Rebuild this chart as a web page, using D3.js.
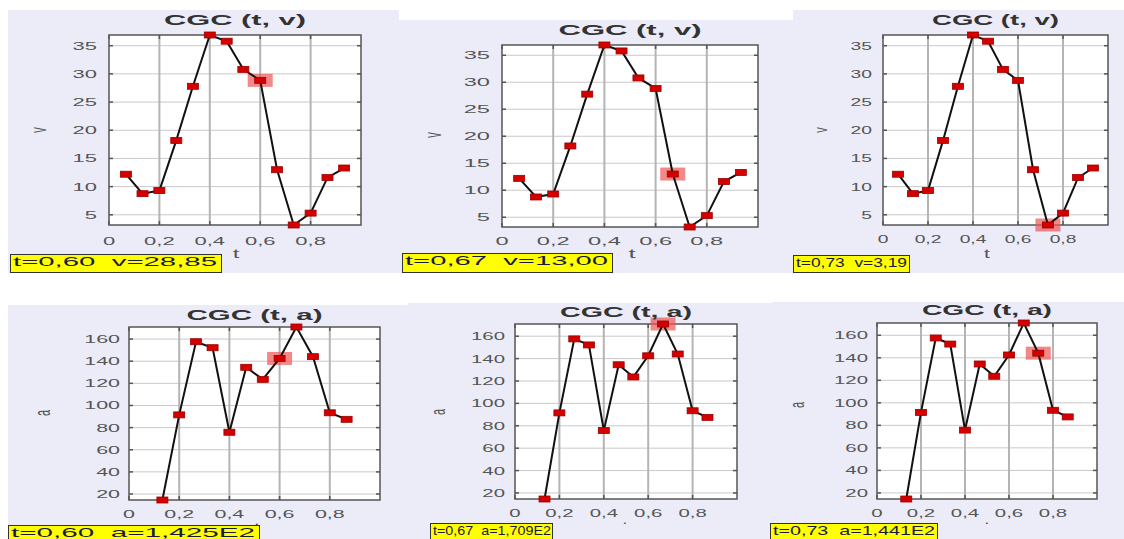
<!DOCTYPE html>
<html>
<head>
<meta charset="utf-8">
<script src="https://d3js.org/d3.v7.min.js"></script>
<style>
  html, body { margin: 0; padding: 0; background: #fff; }
  svg { display: block; }
</style>
</head>
<body>
<svg id="chart" width="1124" height="539"></svg>
<script>
// t values of the samples (v series and a series)
const tV = [0.067, 0.133, 0.2, 0.267, 0.333, 0.4, 0.467, 0.533, 0.6, 0.667, 0.733, 0.8, 0.867, 0.933];
const vValues = [12.2, 8.75, 9.3, 18.2, 27.8, 36.9, 35.8, 30.8, 28.85, 13.0, 3.19, 5.3, 11.6, 13.3];

const tA = [0.133, 0.2, 0.267, 0.333, 0.4, 0.467, 0.533, 0.6, 0.667, 0.733, 0.8, 0.867];
const aValues = [14.6, 91.5, 157.6, 152.2, 75.8, 134.5, 123.6, 142.5, 170.9, 144.1, 93.4, 87.5];

const xTicks = [0, 0.2, 0.4, 0.6, 0.8];
const xTickLabels = ["0", "0,2", "0,4", "0,6", "0,8"];
const vTicks = [5, 10, 15, 20, 25, 30, 35];
const aTicks = [20, 40, 60, 80, 100, 120, 140, 160];

const vReadouts = ["t=0,60  v=28,85", "t=0,67  v=13,00", "t=0,73  v=3,19"];
const aReadouts = ["t=0,60  a=1,425E2", "t=0,67  a=1,709E2", "t=0,73  a=1,441E2"];
const vHighlight = [8, 9, 10];
const aHighlight = [7, 8, 9];

// layout of the six screenshots (bg, plot rect, text spots)
const panels = [
  { bg: [8, 10, 399, 273], plot: [109, 35, 361, 225], titleY: 25, titleW: 142, yLab: [38, 130],
    tickEnd: 97, xBase: 245, tLab: [236, 258], box: [10, 254, 222, 273], boxW: 204, sx: 2.0,
    series: "v", idx: 0 },
  { bg: [399, 20, 793, 273], plot: [502, 45, 758, 227], titleY: 35, titleW: 143, yLab: [433, 135],
    tickEnd: 490, xBase: 245, tLab: [632, 258], box: [402, 253, 613, 273], boxW: 203, sx: 2.15,
    series: "v", idx: 1 },
  { bg: [793, 10, 1124, 273], plot: [883, 35, 1108, 225], titleY: 25, titleW: 127, yLab: [820, 130],
    tickEnd: 872, xBase: 243, tLab: [987, 258], box: [793, 255, 910, 273], boxW: 111, sx: 1.75,
    series: "v", idx: 2 },
  { bg: [8, 305, 408, 539], plot: [129, 327, 380, 500], titleY: 320, titleW: 136, yLab: [42, 413],
    tickEnd: 120, xBase: 518, tLab: [257, 532], box: [8, 525, 260, 545], boxW: 244, sx: 1.95,
    series: "a", idx: 0, tClip: 525 },
  { bg: [408, 303, 772, 539], plot: [515, 324, 737, 499], titleY: 317, titleW: 132, yLab: [438, 412],
    tickEnd: 505, xBase: 517, tLab: [625, 531], box: [430, 523, 553, 545], boxW: 118, sx: 1.85,
    series: "a", idx: 1, tClip: 524 },
  { bg: [772, 302, 1124, 539], plot: [877, 323, 1097, 499], titleY: 315, titleW: 130, yLab: [797, 405],
    tickEnd: 868, xBase: 517, tLab: [987, 531], box: [770, 523, 938, 545], boxW: 162, sx: 1.85,
    series: "a", idx: 2, tClip: 524 },
];

const svg = d3.select("#chart");
const defs = svg.append("defs");
const FONT = "'Liberation Sans', Arial, sans-serif";

function drawPanel(p, pi) {
  const isV = p.series === "v";
  const ts = isV ? tV : tA;
  const vals = isV ? vValues : aValues;
  const yTicks = isV ? vTicks : aTicks;
  const hi = isV ? vHighlight[p.idx] : aHighlight[p.idx];
  const readout = isV ? vReadouts[p.idx] : aReadouts[p.idx];
  const [l, t, r, b] = p.plot;

  const g = svg.append("g");

  g.append("rect")
    .attr("x", p.bg[0]).attr("y", p.bg[1])
    .attr("width", p.bg[2] - p.bg[0]).attr("height", p.bg[3] - p.bg[1])
    .attr("fill", "#ececf9");

  const x = d3.scaleLinear().domain([0, 1]).range([l, r]);
  const y = d3.scaleLinear().domain(d3.extent(vals)).range([b, t]);

  g.append("rect")
    .attr("x", l).attr("y", t).attr("width", r - l).attr("height", b - t)
    .attr("fill", "#fff");

  // grid
  g.append("g").selectAll("line").data(yTicks).join("line")
    .attr("x1", l).attr("x2", r)
    .attr("y1", (d) => y(d)).attr("y2", (d) => y(d))
    .attr("stroke", "#c9c9c9").attr("stroke-width", 1);
  g.append("g").selectAll("line").data(xTicks.slice(1)).join("line")
    .attr("x1", (d) => x(d)).attr("x2", (d) => x(d))
    .attr("y1", t).attr("y2", b)
    .attr("stroke", "#b4b4b4").attr("stroke-width", 2);

  // small inside ticks
  const tk = g.append("g").attr("stroke", "#555").attr("stroke-width", 1.5);
  xTicks.forEach((d) => {
    tk.append("line").attr("x1", x(d)).attr("x2", x(d)).attr("y1", t).attr("y2", t + 4);
    tk.append("line").attr("x1", x(d)).attr("x2", x(d)).attr("y1", b).attr("y2", b - 4);
  });
  yTicks.forEach((d) => {
    tk.append("line").attr("x1", l).attr("x2", l + 4).attr("y1", y(d)).attr("y2", y(d));
    tk.append("line").attr("x1", r).attr("x2", r - 4).attr("y1", y(d)).attr("y2", y(d));
  });

  g.append("rect")
    .attr("x", l).attr("y", t).attr("width", r - l).attr("height", b - t)
    .attr("fill", "none").attr("stroke", "#555").attr("stroke-width", 1.5);

  const pts = ts.map((d, i) => [d, vals[i]]);

  // highlighted sample
  g.append("rect")
    .attr("x", x(pts[hi][0]) - 12.5).attr("y", y(pts[hi][1]) - 6.5)
    .attr("width", 25).attr("height", 13)
    .attr("fill", "#ee5555").attr("opacity", 0.7);

  g.append("path")
    .datum(pts)
    .attr("fill", "none")
    .attr("stroke", "#111")
    .attr("stroke-width", 2)
    .attr("d", d3.line().x((d) => x(d[0])).y((d) => y(d[1])));

  g.append("g").selectAll("rect").data(pts).join("rect")
    .attr("x", (d) => x(d[0]) - 5.5).attr("y", (d) => y(d[1]) - 3)
    .attr("width", 11).attr("height", 6)
    .attr("fill", "#d40000").attr("stroke", "#9a0000").attr("stroke-width", 0.8);

  // title
  g.append("text")
    .attr("x", (l + r) / 2).attr("y", p.titleY)
    .attr("text-anchor", "middle")
    .attr("font-family", FONT).attr("font-weight", "bold").attr("font-size", 14)
    .attr("fill", "#333")
    .attr("textLength", p.titleW).attr("lengthAdjust", "spacingAndGlyphs")
    .text(isV ? "CGC (t, v)" : "CGC (t, a)");

  // y tick labels
  g.append("g").selectAll("text").data(yTicks).join("text")
    .attr("transform", (d) => `translate(${p.tickEnd},${y(d) + 4}) scale(${p.sx},1)`)
    .attr("text-anchor", "end")
    .attr("font-family", FONT).attr("font-size", 11).attr("fill", "#555")
    .text((d) => d);

  // x tick labels
  g.append("g").selectAll("text").data(xTicks).join("text")
    .attr("transform", (d) => `translate(${x(d)},${p.xBase}) scale(${p.sx},1)`)
    .attr("text-anchor", "middle")
    .attr("font-family", FONT).attr("font-size", 11).attr("fill", "#555")
    .text((d, i) => xTickLabels[i]);

  // axis names
  g.append("text")
    .attr("transform", `translate(${p.yLab[0]},${p.yLab[1]}) scale(${p.sx},1) rotate(-90)`)
    .attr("text-anchor", "middle").attr("dy", "0.35em")
    .attr("font-family", FONT).attr("font-size", 11).attr("fill", "#555")
    .text(isV ? "v" : "a");

  // bottom-row "t" is mostly hidden in the original screenshots
  let tHolder = g;
  if (p.tClip) {
    const id = `tclip-${pi}`;
    defs.append("clipPath").attr("id", id)
      .append("rect")
      .attr("x", p.bg[0]).attr("y", p.bg[1])
      .attr("width", p.bg[2] - p.bg[0]).attr("height", p.tClip - p.bg[1]);
    tHolder = g.append("g").attr("clip-path", `url(#${id})`);
  }
  tHolder.append("text")
    .attr("transform", `translate(${p.tLab[0]},${p.tLab[1]}) scale(${p.sx},1)`)
    .attr("text-anchor", "middle")
    .attr("font-family", FONT).attr("font-size", 12).attr("fill", "#555")
    .text("t");

  // readout box
  const [bx0, by0, bx1, by1] = p.box;
  g.append("rect")
    .attr("x", bx0 + 0.5).attr("y", by0 + 0.5)
    .attr("width", bx1 - bx0 - 1).attr("height", by1 - by0 - 1)
    .attr("fill", "#ffff00").attr("stroke", "#333").attr("stroke-width", 1);
  g.append("text")
    .attr("x", bx0 + 3).attr("y", by0 + 12)
    .attr("font-family", FONT).attr("font-size", 13).attr("fill", "#1a1a3a")
    .attr("textLength", p.boxW).attr("lengthAdjust", "spacingAndGlyphs")
    .style("white-space", "pre")
    .text(readout);
}

panels.forEach(drawPanel);
</script>
</body>
</html>
